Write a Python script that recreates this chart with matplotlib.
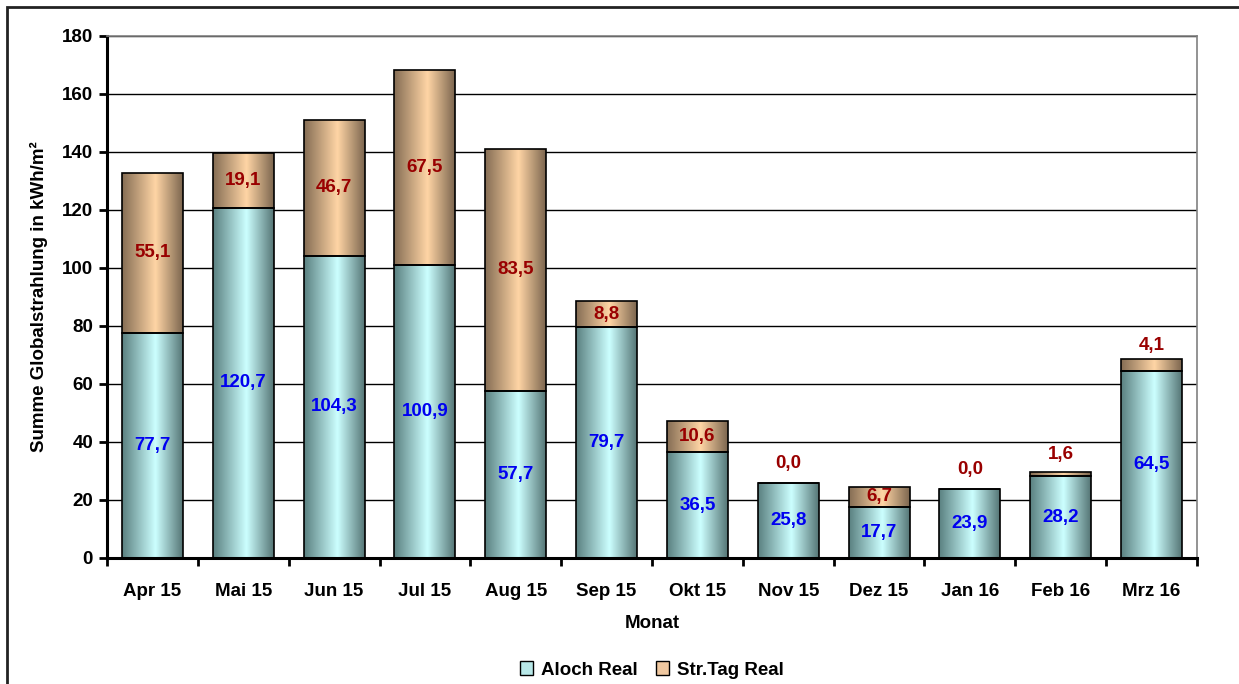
import numpy as np
import matplotlib.pyplot as plt
from matplotlib.colors import LinearSegmentedColormap
from matplotlib.patches import Patch, Rectangle

plt.rcParams['font.family'] = ['Liberation Sans', 'DejaVu Sans']
plt.rcParams['font.weight'] = 'bold'

# Daten
monate = ['Apr 15', 'Mai 15', 'Jun 15', 'Jul 15', 'Aug 15', 'Sep 15',
          'Okt 15', 'Nov 15', 'Dez 15', 'Jan 16', 'Feb 16', 'Mrz 16']
aloch = [77.7, 120.7, 104.3, 100.9, 57.7, 79.7, 36.5, 25.8, 17.7, 23.9, 28.2, 64.5]
strtag = [55.1, 19.1, 46.7, 67.5, 83.5, 8.8, 10.6, 0.0, 6.7, 0.0, 1.6, 4.1]

FS = 13.5

# Farbverlauf wie in Excel (dunkel - hell - dunkel)
cmap_aloch = LinearSegmentedColormap.from_list(
    'aloch', [(0, '#5a8080'), (0.55, '#ccffff'), (1, '#557575')])
cmap_str = LinearSegmentedColormap.from_list(
    'str', [(0, '#856d54'), (0.55, '#ffd5a5'), (1, '#7c664f')])

fig = plt.figure(figsize=(12.39, 6.84), dpi=100)
ax = fig.add_axes([107 / 1239, 1 - 558 / 684, 1090 / 1239, 522 / 684])

x = np.arange(len(monate))
bw = 0.67
b1 = ax.bar(x, aloch, bw, color='none', edgecolor='black', linewidth=1.2, zorder=3)
b2 = ax.bar(x, strtag, bw, bottom=aloch, color='none', edgecolor='black',
            linewidth=1.2, zorder=3)

grad = np.linspace(0, 1, 256).reshape(1, -1)
for bars, cm in [(b1, cmap_aloch), (b2, cmap_str)]:
    for p in bars:
        if p.get_height() <= 0:
            continue
        im = ax.imshow(grad, cmap=cm, aspect='auto', zorder=2,
                       extent=[p.get_x(), p.get_x() + p.get_width(),
                               p.get_y(), p.get_y() + p.get_height()])
        im.set_clip_path(p)

# Beschriftungen
for i in range(len(monate)):
    ax.text(x[i], aloch[i] / 2, f'{aloch[i]:.1f}'.replace('.', ','),
            ha='center', va='center', color='#0000f0', fontsize=FS,
            fontweight='bold', zorder=5)
    mitte = aloch[i] + strtag[i] / 2
    txt = f'{strtag[i]:.1f}'.replace('.', ',')
    if strtag[i] >= 5:
        ax.text(x[i], mitte, txt, ha='center', va='center', color='#990000',
                fontsize=FS, fontweight='bold', zorder=5)
    else:
        ax.annotate(txt, (x[i], mitte), xytext=(0, 14), textcoords='offset points',
                    ha='center', va='center', color='#990000', fontsize=FS,
                    fontweight='bold', zorder=5)

ax.set_xlim(-0.5, len(monate) - 0.5)
ax.set_ylim(0, 180)
ax.set_yticks(range(0, 181, 20))
ax.grid(axis='y', color='black', linewidth=1, zorder=1)
ax.set_axisbelow(True)

ax.set_xticks(np.arange(-0.5, len(monate), 1))
ax.set_xticklabels([])
ax.set_xticks(x, minor=True)
ax.set_xticklabels(monate, minor=True)
ax.tick_params(axis='x', which='major', length=6, width=2, direction='out')
ax.tick_params(axis='x', which='minor', length=0, pad=18, labelsize=FS)
ax.tick_params(axis='y', length=6, width=2, direction='out', labelsize=FS, pad=4)

for s in ['left', 'bottom']:
    ax.spines[s].set_linewidth(2.2)
    ax.spines[s].set_color('black')
for s in ['top', 'right']:
    ax.spines[s].set_linewidth(1.2)
    ax.spines[s].set_color('#808080')

ax.set_xlabel('Monat', fontsize=FS, fontweight='bold', labelpad=11)
ax.set_ylabel('Summe Globalstrahlung in kWh/m²', fontsize=FS, fontweight='bold',
              labelpad=10)

handles = [Patch(facecolor='#b8e8e8', edgecolor='black', label='Aloch Real'),
           Patch(facecolor='#f0c8a0', edgecolor='black', label='Str.Tag Real')]
fig.legend(handles=handles, loc='center', bbox_to_anchor=(652 / 1239, 1 - 670 / 684),
           ncol=2, frameon=False, fontsize=FS, handlelength=0.7, handleheight=0.7,
           handletextpad=0.4, columnspacing=1.0)

# Rahmen um das Diagramm
fig.patches.append(Rectangle((7 / 1239, -0.1), 1.2, 1.1 - 7 / 684, transform=fig.transFigure,
                             fill=False, edgecolor='#222222', linewidth=2))

fig.savefig('out.png', dpi=100)
